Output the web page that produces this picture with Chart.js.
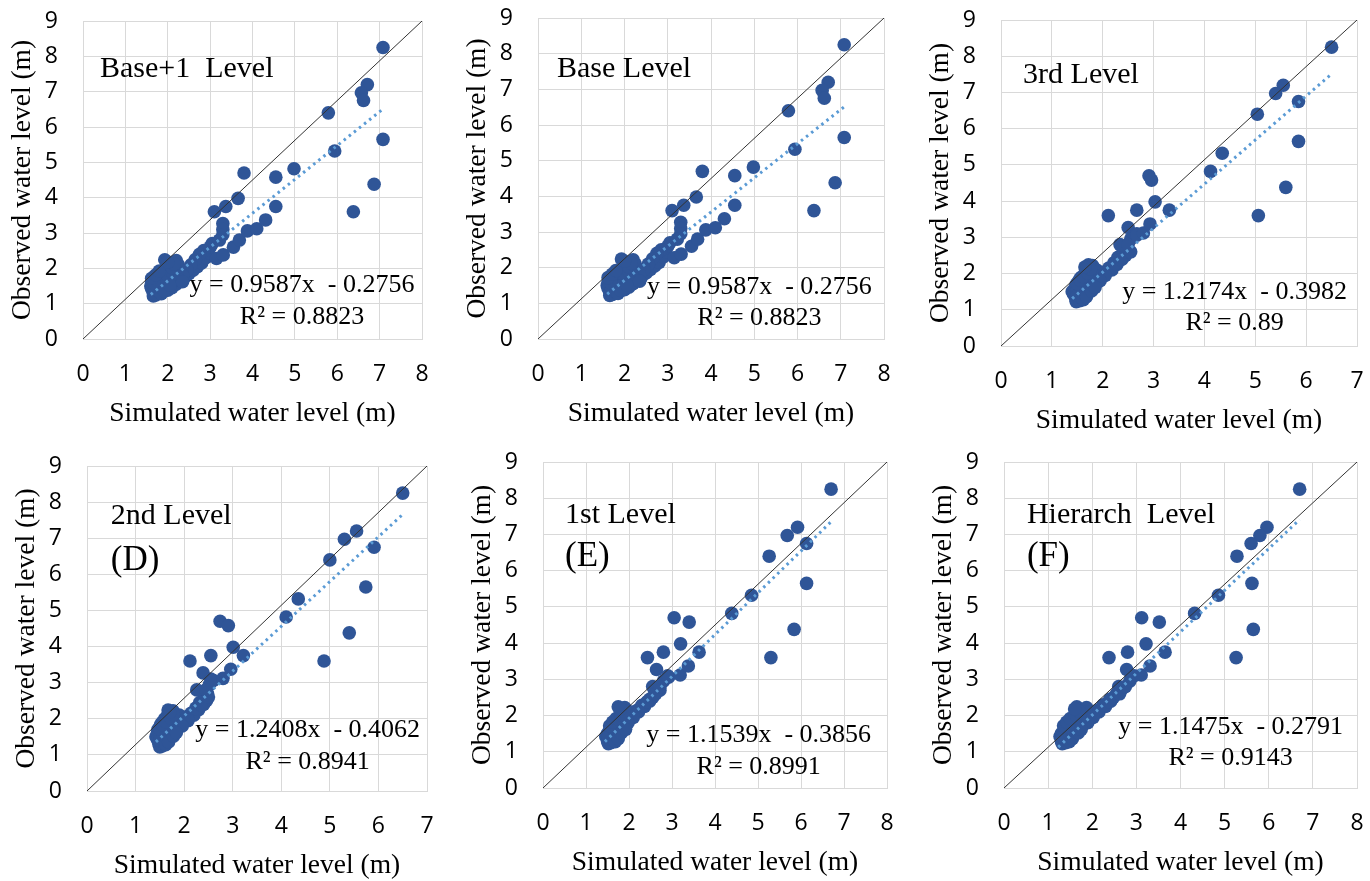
<!DOCTYPE html>
<html>
<head>
<meta charset="utf-8">
<script src="https://cdn.jsdelivr.net/npm/chart.js@4.4.1/dist/chart.umd.min.js"></script>
<style>
  body { margin: 0; background: #fff; }
  #wrap { position: relative; width: 1370px; height: 881px; overflow: hidden; background: #fff; }
  #wrap canvas { position: absolute; }
</style>
</head>
<body>
<div id="wrap"></div>
<script>
// Observed water level (m) - same wells in every panel
const observed = [
  8.25, 7.2, 6.97, 6.75, 6.4, 5.65, 5.32, 4.82, 4.7, 4.58, 4.38, 3.98, 3.75, 3.75, 3.6, 3.6,
  2.24, 2.22, 2.10, 2.00, 1.90, 1.85, 1.78, 1.70, 1.60, 1.50, 1.42, 1.30, 1.22, 1.35, 1.45, 1.55,
  1.65, 1.75, 1.85, 1.80, 1.60, 1.70, 1.90, 2.00, 2.10, 1.55, 1.38, 1.45, 1.55, 1.65, 1.75, 1.85,
  1.95, 2.05, 2.15, 2.30, 2.45, 2.60, 2.70, 2.50, 2.40, 2.25, 2.10, 1.95, 1.80, 3.27, 3.10, 2.95,
  2.80, 2.28, 2.38, 2.60, 2.80, 3.06, 3.12, 3.37,
  1.25, 1.32, 1.40, 1.48, 1.58, 1.68, 1.72, 1.82, 1.92, 2.02, 2.12, 1.28, 1.36, 1.52, 1.62, 2.18
];

// Simulated water level (m) for each level
const simBase1 = [
  7.08, 6.71, 6.57, 6.62, 5.79, 7.08, 5.94, 4.98, 3.80, 4.55, 6.87, 3.66, 3.37, 4.55, 3.10, 6.38,
  1.93, 2.20, 2.10, 2.00, 1.90, 1.80, 1.70, 1.65, 1.62, 1.60, 1.62, 1.66, 1.66, 1.75, 1.85, 1.95,
  2.05, 2.15, 2.25, 2.00, 1.80, 1.90, 2.10, 2.20, 2.25, 1.75, 2.00, 2.10, 2.20, 2.30, 2.40, 2.50,
  2.60, 2.70, 2.80, 2.90, 2.95, 3.00, 3.05, 2.85, 2.75, 2.65, 2.55, 2.45, 2.35, 3.30, 3.30, 3.30,
  3.22, 3.15, 3.31, 3.55, 3.69, 3.88, 4.10, 4.31,
  1.72, 1.80, 1.70, 1.90, 1.68, 2.25, 1.62, 1.72, 1.80, 2.10, 2.15, 1.85, 1.92, 2.05, 2.35, 2.00
];
const simBase = [
  7.08, 6.71, 6.57, 6.62, 5.79, 7.08, 5.94, 4.98, 3.80, 4.55, 6.87, 3.66, 3.37, 4.55, 3.10, 6.38,
  1.93, 2.20, 2.10, 2.00, 1.90, 1.80, 1.70, 1.65, 1.62, 1.60, 1.62, 1.66, 1.66, 1.75, 1.85, 1.95,
  2.05, 2.15, 2.25, 2.00, 1.80, 1.90, 2.10, 2.20, 2.25, 1.75, 2.00, 2.10, 2.20, 2.30, 2.40, 2.50,
  2.60, 2.70, 2.80, 2.90, 2.95, 3.00, 3.05, 2.85, 2.75, 2.65, 2.55, 2.45, 2.35, 3.30, 3.30, 3.30,
  3.22, 3.15, 3.31, 3.55, 3.69, 3.88, 4.10, 4.31,
  1.72, 1.80, 1.70, 1.90, 1.68, 2.25, 1.62, 1.72, 1.80, 2.10, 2.15, 1.85, 1.92, 2.05, 2.35, 2.00
];
const sim3rd = [
  6.50, 5.55, 5.40, 5.85, 5.04, 5.85, 4.35, 4.12, 2.91, 2.96, 5.60, 3.03, 2.67, 3.31, 2.11, 5.06,
  1.72, 1.80, 1.70, 1.65, 1.58, 1.55, 1.52, 1.48, 1.45, 1.40, 1.43, 1.47, 1.48, 1.52, 1.56, 1.62,
  1.68, 1.74, 1.80, 1.66, 1.55, 1.60, 1.75, 1.82, 1.88, 1.50, 1.60, 1.66, 1.72, 1.78, 1.84, 1.90,
  1.98, 2.05, 2.12, 2.22, 2.30, 2.40, 2.45, 2.45, 2.38, 2.28, 2.18, 2.05, 1.95, 2.50, 2.67, 2.55,
  2.34, 2.25, 2.35, 2.55, 2.50, 2.67, 2.80, 2.93,
  1.55, 1.58, 1.50, 1.62, 1.70, 1.58, 1.50, 1.56, 1.62, 1.70, 1.76, 1.62, 1.68, 1.78, 1.85, 1.65
];
const sim2nd = [
  6.50, 5.55, 5.30, 5.91, 5.00, 5.74, 4.35, 4.10, 2.74, 2.91, 5.40, 3.01, 2.55, 3.22, 2.12, 4.88,
  1.67, 1.77, 1.66, 1.60, 1.55, 1.52, 1.50, 1.46, 1.45, 1.42, 1.45, 1.48, 1.50, 1.53, 1.57, 1.63,
  1.69, 1.75, 1.80, 1.66, 1.55, 1.60, 1.76, 1.84, 1.90, 1.50, 1.62, 1.68, 1.74, 1.80, 1.86, 1.92,
  1.99, 2.06, 2.14, 2.24, 2.32, 2.42, 2.48, 2.46, 2.40, 2.30, 2.20, 2.08, 1.96, 2.39, 2.55, 2.52,
  2.26, 2.25, 2.35, 2.50, 2.45, 2.60, 2.80, 2.96,
  1.55, 1.58, 1.50, 1.62, 1.68, 1.58, 1.50, 1.56, 1.62, 1.72, 1.78, 1.62, 1.68, 1.78, 1.84, 1.70
];
const sim1st = [
  6.70, 5.92, 5.68, 6.13, 5.26, 6.13, 4.85, 4.39, 3.05, 3.40, 5.84, 3.20, 2.80, 3.63, 2.43, 5.30,
  1.75, 1.90, 1.85, 1.80, 1.72, 1.68, 1.62, 1.58, 1.55, 1.50, 1.46, 1.50, 1.52, 1.56, 1.60, 1.66,
  1.72, 1.78, 1.85, 1.76, 1.64, 1.70, 1.90, 1.98, 2.05, 1.58, 1.55, 1.62, 1.70, 1.80, 1.88, 1.96,
  2.04, 2.12, 2.20, 2.35, 2.48, 2.60, 2.72, 2.55, 2.48, 2.36, 2.22, 2.10, 1.98, 2.64, 2.90, 2.80,
  2.55, 2.30, 2.42, 2.62, 2.72, 2.92, 3.19, 3.38,
  1.58, 1.62, 1.52, 1.68, 1.75, 1.62, 1.55, 1.62, 1.70, 1.82, 1.88, 1.68, 1.75, 1.82, 1.92, 1.80
];
const simHier = [
  6.70, 5.96, 5.80, 5.60, 5.28, 5.62, 4.86, 4.32, 3.12, 3.52, 5.65, 3.22, 2.80, 3.65, 2.38, 5.26,
  1.65, 1.87, 1.80, 1.70, 1.60, 1.55, 1.50, 1.45, 1.38, 1.30, 1.27, 1.30, 1.32, 1.38, 1.45, 1.52,
  1.60, 1.68, 1.76, 1.65, 1.48, 1.56, 1.80, 1.88, 1.95, 1.42, 1.40, 1.48, 1.58, 1.68, 1.78, 1.88,
  1.96, 2.05, 2.12, 2.25, 2.40, 2.55, 2.65, 2.48, 2.42, 2.30, 2.15, 2.02, 1.90, 2.78, 2.95, 2.85,
  2.60, 2.25, 2.38, 2.62, 2.75, 2.90, 3.11, 3.31,
  1.40, 1.45, 1.32, 1.50, 1.60, 1.45, 1.35, 1.42, 1.50, 1.62, 1.70, 1.48, 1.55, 1.68, 1.75, 1.60
];

// Linear trendline end points [x, y]
const trendBase1 = [[1.60, 1.26], [7.08, 6.51]];
const trendBase = [[1.60, 1.26], [7.08, 6.51]];
const trend3rd = [[1.40, 1.31], [6.50, 7.51]];
const trend2nd = [[1.42, 1.36], [6.50, 7.66]];
const trend1st = [[1.44, 1.28], [6.70, 7.35]];
const trendHier = [[1.23, 1.13], [6.70, 7.41]];

const levelNames = ['Base+1  Level', 'Base Level', '3rd Level', '2nd Level', '1st Level', 'Hierarch  Level'];
const panelTags = [null, null, null, '(D)', '(E)', '(F)'];
const equations = [
  'y = 0.9587x  - 0.2756', 'y = 0.9587x  - 0.2756', 'y = 1.2174x  - 0.3982',
  'y = 1.2408x  - 0.4062', 'y = 1.1539x  - 0.3856', 'y = 1.1475x  - 0.2791'
];
const rSquared = ['R² = 0.8823', 'R² = 0.8823', 'R² = 0.89', 'R² = 0.8941', 'R² = 0.8991', 'R² = 0.9143'];
const xMaxes = [8, 8, 7, 7, 8, 8];
const yTicksMax = 9;

// layout: plot area box on the page, and text anchors as fractions of it
const panels = [
  { sim: simBase1, trend: trendBase1, area: { l: 83, t: 21, r: 422, b: 339 }, name: [0.05, 0.151], eq: [0.646, 0.83, 0.931] },
  { sim: simBase, trend: trendBase, area: { l: 538, t: 18, r: 884, b: 339 }, name: [0.055, 0.159], eq: [0.64, 0.838, 0.935] },
  { sim: sim3rd, trend: trend3rd, area: { l: 1001, t: 20, r: 1357, b: 346 }, name: [0.062, 0.169], eq: [0.656, 0.834, 0.93] },
  { sim: sim2nd, trend: trend2nd, area: { l: 87, t: 466, r: 427, b: 791 }, name: [0.07, 0.154], eq: [0.649, 0.812, 0.91] },
  { sim: sim1st, trend: trend1st, area: { l: 543, t: 462, r: 887, b: 788 }, name: [0.064, 0.163], eq: [0.627, 0.837, 0.936] },
  { sim: simHier, trend: trendHier, area: { l: 1004, t: 462, r: 1357, b: 788 }, name: [0.065, 0.163], eq: [0.642, 0.813, 0.908] }
];

const Y_AXIS_W = 80;
const X_AXIS_H = 92;
const PAD_RIGHT = 12;
const serif = 'Liberation Serif';
const sans = 'Open Sans';

// Draw panel texts (level name, tag, equation)
const panelText = {
  id: 'panelText',
  afterDatasetsDraw(chart, args, opts) {
    const { ctx, chartArea: a } = chart;
    const w = a.right - a.left;
    const h = a.bottom - a.top;
    ctx.save();
    ctx.fillStyle = '#000';
    ctx.textBaseline = 'middle';
    ctx.textAlign = 'left';
    ctx.font = `30px "${serif}"`;
    ctx.fillText(opts.name, a.left + opts.namePos[0] * w, a.top + opts.namePos[1] * h);
    if (opts.tag) {
      ctx.font = `35px "${serif}"`;
      ctx.fillText(opts.tag, a.left + opts.namePos[0] * w, a.top + 0.292 * h);
    }
    ctx.textAlign = 'center';
    ctx.font = `26px "${serif}"`;
    ctx.fillText(opts.eq, a.left + opts.eqPos[0] * w, a.top + opts.eqPos[1] * h);
    ctx.fillText(opts.r2, a.left + opts.eqPos[0] * w, a.top + opts.eqPos[2] * h);
    ctx.restore();
  }
};

const wrap = document.getElementById('wrap');

panels.forEach((p, i) => {
  const xMax = xMaxes[i];
  const cx = p.area.l - Y_AXIS_W;
  const cy = Math.max(0, p.area.t - 20);
  const cw = p.area.r + PAD_RIGHT - cx;
  const ch = p.area.b + X_AXIS_H - cy;

  const canvas = document.createElement('canvas');
  canvas.width = cw;
  canvas.height = ch;
  canvas.style.left = cx + 'px';
  canvas.style.top = cy + 'px';
  wrap.appendChild(canvas);

  const points = observed.map((o, k) => ({ x: p.sim[k], y: o }));

  new Chart(canvas, {
    type: 'scatter',
    data: {
      datasets: [
        {
          type: 'line', // 1:1 reference diagonal
          data: [{ x: 0, y: 0 }, { x: xMax, y: yTicksMax }],
          borderColor: '#333333',
          borderWidth: 1,
          pointRadius: 0,
          fill: false
        },
        {
          type: 'line', // linear trendline
          data: p.trend.map(t => ({ x: t[0], y: t[1] })),
          borderColor: '#5b9bd5',
          borderWidth: 3,
          borderDash: [2.5, 4],
          pointRadius: 0,
          fill: false
        },
        {
          data: points,
          backgroundColor: '#2f5597',
          borderWidth: 0,
          pointRadius: 6.8
        }
      ]
    },
    options: {
      responsive: false,
      animation: false,
      events: [],
      layout: { padding: { top: p.area.t - cy, right: PAD_RIGHT, left: 0, bottom: 0 } },
      plugins: {
        legend: { display: false },
        tooltip: { enabled: false },
        panelText: {
          name: levelNames[i], tag: panelTags[i], eq: equations[i], r2: rSquared[i],
          namePos: p.name, eqPos: p.eq
        }
      },
      scales: {
        x: {
          type: 'linear',
          min: 0,
          max: xMax,
          // gap under the axis made with an invisible tick mark, so the plot area keeps its size
          ticks: { stepSize: 1, padding: 0, color: '#000', font: { family: sans, size: 23 } },
          grid: { color: '#d9d9d9', drawTicks: true, tickLength: 22, tickColor: 'rgba(0,0,0,0)' },
          border: { color: '#d9d9d9' },
          title: {
            display: true, text: 'Simulated water level (m)', color: '#000',
            font: { family: serif, size: 27.5 }, padding: { top: 0, bottom: 1 }
          },
          afterFit: s => { s.height = X_AXIS_H; }
        },
        y: {
          type: 'linear',
          min: 0,
          max: yTicksMax,
          ticks: { stepSize: 1, padding: 0, color: '#000', font: { family: sans, size: 23 } },
          grid: { color: '#d9d9d9', drawTicks: true, tickLength: 25, tickColor: 'rgba(0,0,0,0)' },
          border: { color: '#d9d9d9' },
          title: {
            display: true, text: 'Observed water level (m)', color: '#000',
            font: { family: serif, size: 27.5 }, padding: { top: 3, bottom: 0 }
          },
          afterFit: s => { s.width = Y_AXIS_W; }
        }
      }
    },
    plugins: [panelText]
  });
});
</script>
</body>
</html>
